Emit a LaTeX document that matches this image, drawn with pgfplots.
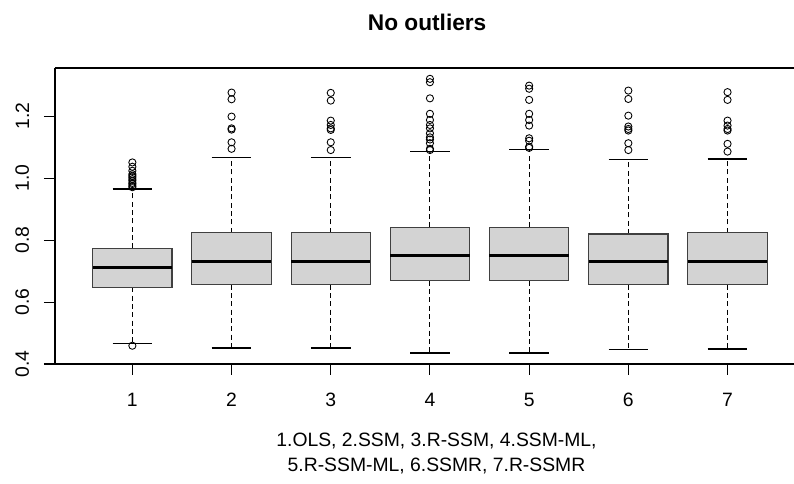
\documentclass[border=0pt]{standalone}
\usepackage{pgfplots}
\pgfplotsset{compat=1.18}
\usepgfplotslibrary{statistics}
\usepackage{fontspec}
\setmainfont{Liberation Sans}
\definecolor{rgray}{HTML}{D3D3D3}
\begin{document}
\begin{tikzpicture}
\begin{axis}[
  at={(0,0)}, anchor=south west,
  scale only axis,
  width=554.25pt, height=222pt,
  xmin=0.22, xmax=7.67,
  ymin=0.4, ymax=1.356,
  axis x line=box, axis y line=left,
  x axis line style={-}, y axis line style={-},
  axis line style={line width=0.8pt, black},
  xtick={1,2,3,4,5,6,7},
  xticklabels={1,2,3,4,5,6,7},
  ytick={0.4,0.6,0.8,1.0,1.2},
  yticklabels={0.4,0.6,0.8,1.0,1.2},
  xtick pos=bottom, ytick pos=left,
  tick align=outside,
  major tick length=8.25pt,
  tick style={black, line width=0.8pt},
  ticklabel style={font=\fontsize{14.5}{17}\selectfont},
  yticklabel style={rotate=90, anchor=south, inner sep=0pt, yshift=11pt},
  xticklabel style={anchor=north, inner sep=0pt, yshift=-13.5pt},
  title={No outliers},
  title style={font=\fontsize{17}{20}\selectfont\bfseries, at={(rel axis cs:0.5,1)}, anchor=center, xshift=2pt, yshift=28.5pt},
  xlabel={1.OLS, 2.SSM, 3.R-SSM, 4.SSM-ML,\\5.R-SSM-ML, 6.SSMR, 7.R-SSMR},
  xlabel style={font=\fontsize{14.5}{18.75}\selectfont, align=center, at={(rel axis cs:0.5,0)}, anchor=center, xshift=9pt, yshift=-67pt},
  boxplot/draw direction=y,
  boxplot/every box/.style={fill=rgray, draw=black!75, line width=0.85pt},
  boxplot/draw/median/.code={%
    \draw[line width=2.4pt, black] (boxplot box cs:\pgfplotsboxplotvalue{median},0) -- (boxplot box cs:\pgfplotsboxplotvalue{median},1);},
  boxplot/draw/lower whisker/.code={%
    \draw[dash pattern=on 3.75pt off 2.5pt, line width=0.8pt] (boxplot cs:\pgfplotsboxplotvalue{lower quartile}) -- (boxplot cs:\pgfplotsboxplotvalue{lower whisker});
    \draw[line width=0.85pt] (boxplot whisker cs:\pgfplotsboxplotvalue{lower whisker},0) -- (boxplot whisker cs:\pgfplotsboxplotvalue{lower whisker},1);},
  boxplot/draw/upper whisker/.code={%
    \draw[dash pattern=on 3.75pt off 2.5pt, line width=0.8pt] (boxplot cs:\pgfplotsboxplotvalue{upper quartile}) -- (boxplot cs:\pgfplotsboxplotvalue{upper whisker});
    \draw[line width=0.85pt] (boxplot whisker cs:\pgfplotsboxplotvalue{upper whisker},0) -- (boxplot whisker cs:\pgfplotsboxplotvalue{upper whisker},1);},
  every axis plot/.append style={black, line width=0.8pt, mark=o, mark size=2.7pt, mark options={solid, line width=0.65pt}},
]
\addplot[boxplot prepared={draw position=1, lower whisker=0.4666, lower quartile=0.6475, median=0.711, upper quartile=0.7735, upper whisker=0.965, box extend=0.8, whisker extend=0.4}]
  table[row sep=\\, y index=0]{v\\ 0.459\\ 0.971\\ 0.975\\ 0.981\\ 0.985\\ 0.992\\ 0.997\\ 1.003\\ 1.008\\ 1.013\\ 1.024\\ 1.037\\ 1.051\\};
\addplot[boxplot prepared={draw position=2, lower whisker=0.4517, lower quartile=0.656, median=0.7315, upper quartile=0.824, upper whisker=1.0656, box extend=0.8, whisker extend=0.4}]
  table[row sep=\\, y index=0]{v\\ 1.095\\ 1.116\\ 1.157\\ 1.161\\ 1.199\\ 1.255\\ 1.2766\\};
\addplot[boxplot prepared={draw position=3, lower whisker=0.4517, lower quartile=0.656, median=0.7315, upper quartile=0.824, upper whisker=1.0656, box extend=0.8, whisker extend=0.4}]
  table[row sep=\\, y index=0]{v\\ 1.091\\ 1.116\\ 1.156\\ 1.161\\ 1.172\\ 1.186\\ 1.2507\\ 1.2756\\};
\addplot[boxplot prepared={draw position=4, lower whisker=0.4355, lower quartile=0.669, median=0.751, upper quartile=0.841, upper whisker=1.087, box extend=0.8, whisker extend=0.4}]
  table[row sep=\\, y index=0]{v\\ 1.091\\ 1.095\\ 1.113\\ 1.125\\ 1.132\\ 1.145\\ 1.161\\ 1.172\\ 1.188\\ 1.208\\ 1.258\\ 1.310\\ 1.321\\};
\addplot[boxplot prepared={draw position=5, lower whisker=0.4355, lower quartile=0.669, median=0.751, upper quartile=0.841, upper whisker=1.0925, box extend=0.8, whisker extend=0.4}]
  table[row sep=\\, y index=0]{v\\ 1.098\\ 1.102\\ 1.121\\ 1.129\\ 1.170\\ 1.188\\ 1.208\\ 1.253\\ 1.289\\ 1.299\\};
\addplot[boxplot prepared={draw position=6, lower whisker=0.447, lower quartile=0.656, median=0.7315, upper quartile=0.820, upper whisker=1.061, box extend=0.8, whisker extend=0.4}]
  table[row sep=\\, y index=0]{v\\ 1.091\\ 1.113\\ 1.154\\ 1.159\\ 1.167\\ 1.202\\ 1.256\\ 1.283\\};
\addplot[boxplot prepared={draw position=7, lower whisker=0.4485, lower quartile=0.656, median=0.7315, upper quartile=0.824, upper whisker=1.062, box extend=0.8, whisker extend=0.4}]
  table[row sep=\\, y index=0]{v\\ 1.086\\ 1.111\\ 1.154\\ 1.159\\ 1.170\\ 1.186\\ 1.253\\ 1.278\\};
\end{axis}
\pgfresetboundingbox
\path[use as bounding box] (-41.25pt,-90pt) rectangle (554.25pt,273pt);
\end{tikzpicture}
\end{document}
